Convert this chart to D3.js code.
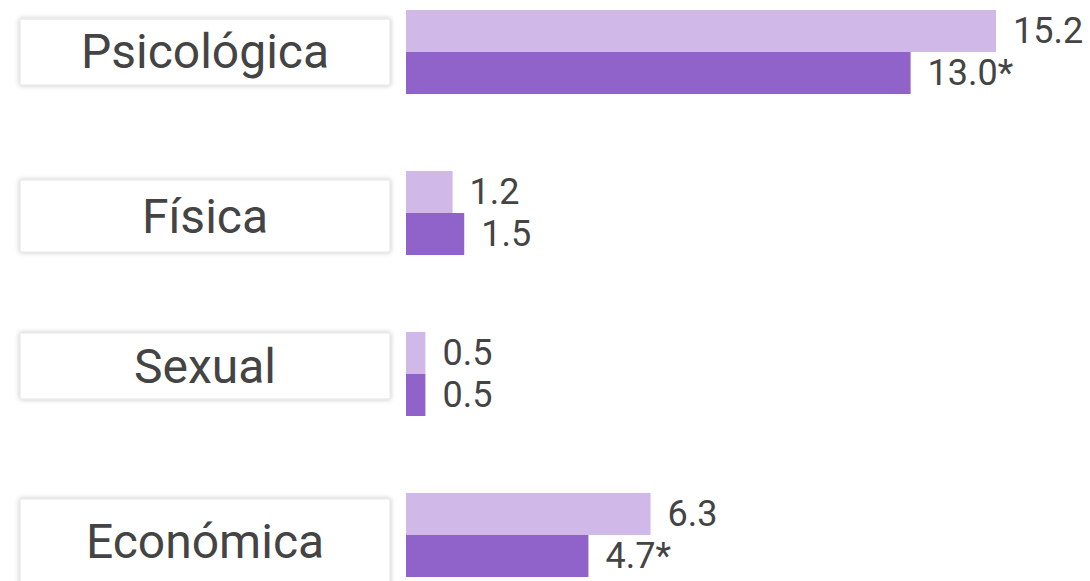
<!DOCTYPE html>
<html>
<head>
<meta charset="utf-8">
<script src="https://cdn.jsdelivr.net/npm/d3@7"></script>
<style>
  body { margin: 0; background: #fff; }
  svg { display: block; font-family: Roboto, "Noto Sans", sans-serif; }
</style>
</head>
<body>
<div id="chart"></div>
<script>
var categories = ["Psicológica", "Física", "Sexual", "Económica"];
var seriesA = [15.2, 1.2, 0.5, 6.3];
var seriesB = [13.0, 1.5, 0.5, 4.7];
var labelsA = ["15.2", "1.2", "0.5", "6.3"];
var labelsB = ["13.0*", "1.5", "0.5", "4.7*"];

var width = 1090, height = 581;
var colorA = "#d0b9e8", colorB = "#8f63c9";

// label boxes are not exactly centred on their bars in the original
var boxTop = [-33, -33, -41, -36];
var boxH = [66, 72, 66, 90];
var textDy = [16, 20, 9, 23];

var svg = d3.select("#chart")
  .append("svg")
    .attr("width", width)
    .attr("height", height);

var defs = svg.append("defs");
var f = defs.append("filter")
    .attr("id", "shadow")
    .attr("x", "-10%").attr("y", "-30%")
    .attr("width", "120%").attr("height", "160%");
f.append("feGaussianBlur").attr("in", "SourceAlpha").attr("stdDeviation", 2.5);
f.append("feComponentTransfer").append("feFuncA").attr("type", "linear").attr("slope", 0.25);
var m = f.append("feMerge");
m.append("feMergeNode");
m.append("feMergeNode").attr("in", "SourceGraphic");

var y = d3.scaleBand()
  .domain(categories)
  .range([10, 577])
  .paddingInner(0.478)
  .paddingOuter(0);

var x = d3.scaleLinear()
  .domain([0, 15.2])
  .range([406, 996]);

var rows = categories.map(function (c, i) {
  return { i: i, cat: c, a: seriesA[i], b: seriesB[i], la: labelsA[i], lb: labelsB[i] };
});

var g = svg.selectAll("g.row")
  .data(rows)
  .enter()
  .append("g")
    .attr("class", "row");

var bh = y.bandwidth() / 2;
var mid = function (d) { return y(d.cat) + y.bandwidth() / 2; };

g.append("rect")
  .attr("x", 20)
  .attr("y", function (d) { return mid(d) + boxTop[d.i]; })
  .attr("width", 370)
  .attr("height", function (d) { return boxH[d.i]; })
  .attr("fill", "#fff")
  .attr("stroke", "#e4e4e4")
  .attr("stroke-width", 1)
  .attr("filter", "url(#shadow)");

g.append("text")
  .attr("x", 205)
  .attr("y", function (d) { return mid(d) + textDy[d.i]; })
  .attr("text-anchor", "middle")
  .attr("font-size", 48)
  .attr("fill", "#444")
  .text(function (d) { return d.cat; });

g.append("rect")
  .attr("x", x(0))
  .attr("y", function (d) { return y(d.cat); })
  .attr("width", function (d) { return x(d.a) - x(0); })
  .attr("height", bh)
  .attr("fill", colorA);

g.append("rect")
  .attr("x", x(0))
  .attr("y", function (d) { return y(d.cat) + bh; })
  .attr("width", function (d) { return x(d.b) - x(0); })
  .attr("height", bh)
  .attr("fill", colorB);

g.append("text")
  .attr("x", function (d) { return x(d.a) + 17; })
  .attr("y", function (d) { return y(d.cat) + bh / 2; })
  .attr("dominant-baseline", "central")
  .attr("font-size", 36)
  .attr("fill", "#444")
  .text(function (d) { return d.la; });

g.append("text")
  .attr("x", function (d) { return x(d.b) + 17; })
  .attr("y", function (d) { return y(d.cat) + bh * 1.5; })
  .attr("dominant-baseline", "central")
  .attr("font-size", 36)
  .attr("fill", "#444")
  .text(function (d) { return d.lb; });
</script>
</body>
</html>
